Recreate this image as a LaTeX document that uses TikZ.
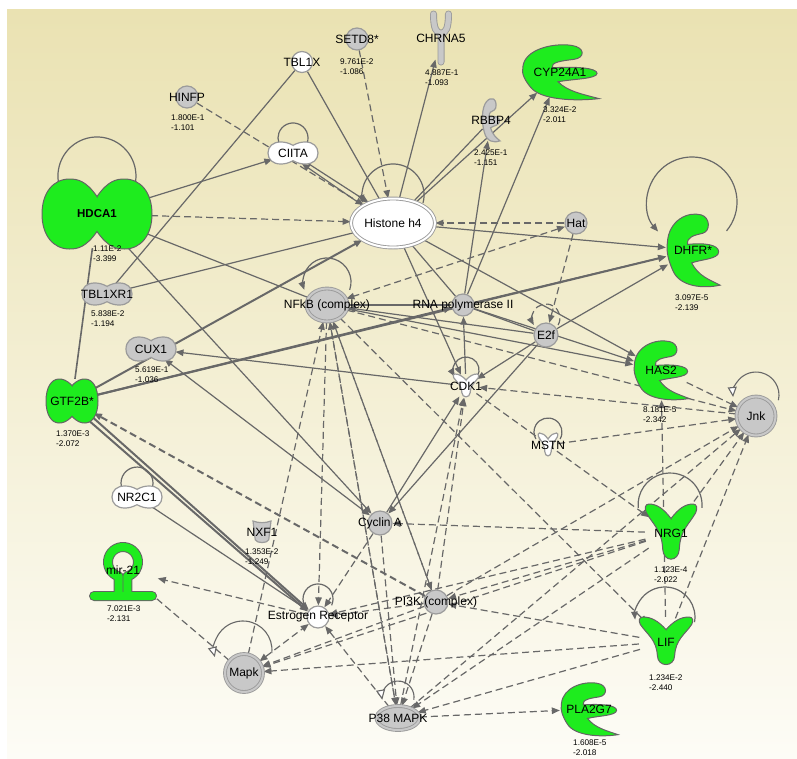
\documentclass[tikz,border=0pt]{standalone}
\usepackage{fontspec}
\setmainfont{Liberation Sans}
\usetikzlibrary{arrows.meta, shapes.geometric, calc}

\definecolor{bgtop}{RGB}{234,226,178}
\definecolor{bgmid}{RGB}{245,241,214}
\definecolor{bgbot}{RGB}{253,252,246}
\definecolor{linkgray}{RGB}{104,104,104}
\definecolor{molgray}{RGB}{200,200,200}
\definecolor{molline}{RGB}{155,155,155}
\definecolor{shapeline}{RGB}{100,100,100}
\definecolor{hitgreen}{RGB}{30,236,30}

\pgfdeclarelayer{panel}
\pgfdeclarelayer{links}
\pgfsetlayers{panel,links,main}

\tikzset{
    rim/.style={draw=shapeline, line width=1pt},
    greyrim/.style={rim/.style={draw=molline, line width=1.2pt}},
    pics/tfreg/.style 2 args={code={
        \path[rim, fill=#1] (0,#2) .. controls (0.2,0.95) and (0.35,1) .. (0.5,1)
            .. controls (0.8,1) and (1,0.6) .. (1,0)
            .. controls (1,-0.6) and (0.8,-1) .. (0.5,-1)
            .. controls (0.35,-1) and (0.2,-0.95) .. (0,-#2)
            .. controls (-0.2,-0.95) and (-0.35,-1) .. (-0.5,-1)
            .. controls (-0.8,-1) and (-1,-0.6) .. (-1,0)
            .. controls (-1,0.6) and (-0.8,1) .. (-0.5,1)
            .. controls (-0.35,1) and (-0.2,0.95) .. cycle;
    }},
    pics/enzyme/.style={code={
        \path[rim, fill=#1] (-0.95,0.2) .. controls (-0.9,0.8) and (-0.2,1.05) .. (0.3,0.95)
            .. controls (0.65,0.88) and (0.65,0.5) .. (0.35,0.45)
            .. controls (0.05,0.4) and (-0.25,0.35) .. (-0.2,0.15)
            .. controls (0.4,0.2) and (0.95,0.15) .. (0.95,-0.05)
            .. controls (0.95,-0.25) and (0.3,-0.25) .. (-0.05,-0.35)
            .. controls (0.2,-0.7) and (0.6,-0.8) .. (1,-0.95)
            .. controls (0.4,-1.05) and (-0.5,-1.0) .. (-0.75,-0.55)
            .. controls (-0.9,-0.3) and (-1.0,-0.05) .. cycle;
    }},
    pics/ligand/.style={code={
        \path[rim, fill=#1] (0,0.5) .. controls (0.3,0.85) and (0.55,1.0) .. (0.85,1.0)
            .. controls (1.0,1.0) and (1.02,0.85) .. (0.95,0.7)
            .. controls (0.7,0.3) and (0.35,0.1) .. (0.32,-0.55)
            .. controls (0.3,-1.02) and (-0.3,-1.02) .. (-0.32,-0.55)
            .. controls (-0.35,0.1) and (-0.7,0.3) .. (-0.95,0.7)
            .. controls (-1.02,0.85) and (-1.0,1.0) .. (-0.85,1.0)
            .. controls (-0.55,1.0) and (-0.3,0.85) .. cycle;
    }},
    pics/receptor/.style={code={
        \draw[line width=7pt, molline, line cap=round] (0,-1) -- (0,0.2)
            (-0.55,1) .. controls (-0.55,0.4) and (-0.35,0.2) .. (0,0.2)
            .. controls (0.35,0.2) and (0.55,0.4) .. (0.55,1);
        \draw[line width=5.2pt, #1, line cap=round] (0,-1) -- (0,0.2)
            (-0.55,1) .. controls (-0.55,0.4) and (-0.35,0.2) .. (0,0.2)
            .. controls (0.35,0.2) and (0.55,0.4) .. (0.55,1);
    }},
    pics/transporter/.style={code={
        \path[rim, fill=#1] (-1,1) .. controls (-0.4,0.8) and (0.4,0.8) .. (1,1)
            -- (0.75,-0.7) .. controls (0.6,-1.05) and (-0.6,-1.05) .. (-0.75,-0.7) -- cycle;
    }},
    pics/mirna/.style={code={
        \draw[line width=10pt, shapeline, line cap=round, line join=round] (-29,-26) -- (29,-26)
            (-4.4,-26) -- (-4.4,-6.34) arc[start angle=253, end angle=-73, radius=15] -- (4.4,-26);
        \draw[line width=8pt, #1, line cap=round, line join=round] (-29,-26) -- (29,-26)
            (-4.4,-26) -- (-4.4,-6.34) arc[start angle=253, end angle=-73, radius=15] -- (4.4,-26);
    }}
}

\begin{document}
\begin{tikzpicture}[
    x=1pt, y=1pt,
    >={Triangle[length=8pt,width=6.5pt]},
    every label/.style={font=\fontsize{12}{12}\selectfont, inner sep=0pt},
    mol/.style={circle, draw=molline, line width=1.2pt, fill=molgray, inner sep=0pt, minimum size=22pt},
    wmol/.style={mol, fill=white},
    dmol/.style={ellipse, draw=molline, line width=0.9pt, double=molgray, double distance=2pt, fill=molgray, inner sep=0pt},
    shapenode/.style={ellipse, inner sep=0pt},
    stat/.style={anchor=west, align=left, inner sep=0pt, font=\fontsize{8.2}{10}\selectfont},
    link/.style={->, draw=linkgray, line width=1.2pt},
    plain/.style={draw=linkgray, line width=1.2pt},
    dlink/.style={link, dash pattern=on 7pt off 4pt},
    tlink/.style={link, line width=2pt},
    openhead/.style={-{Triangle[length=10pt,width=9pt,fill=white]}, draw=linkgray, line width=1.1pt}
]

\begin{pgfonlayer}{panel}
\fill[white] (0,0) rectangle (797,-758);
\shade[top color=bgtop, middle color=bgmid, bottom color=bgbot] (7,-9) rectangle (797,-758);
\end{pgfonlayer}
\useasboundingbox (0,0) rectangle (797,-758);

% Nodes
\node[mol, label=center:SETD8*] (setd) at (357,-39) {};
\node[wmol, minimum size=21pt, label=center:TBL1X] (tblx) at (302,-62) {};
\node[mol, label=center:HINFP] (hinfp) at (187,-97) {};
\pic[xscale=13.6, yscale=24] at (441,-38) {receptor=molgray};
\node[shapenode, minimum width=24pt, minimum height=48pt, label=center:CHRNA5] (chrna) at (441,-38) {};
\pic[xscale=39, yscale=28] at (560,-72) {enzyme=hitgreen};
\node[shapenode, minimum width=74pt, minimum height=52pt, label=center:CYP24A1] (cyp) at (560,-72) {};
\pic[xscale=9, yscale=22, greyrim] at (491,-120) {enzyme=molgray};
\node[shapenode, minimum width=18pt, minimum height=44pt, label=center:RBBP4] (rbbp) at (491,-120) {};
\pic[xscale=25, yscale=11, greyrim] at (293,-153) {tfreg={white}{0.7}};
\node[shapenode, minimum width=50pt, minimum height=22pt, label=center:CIITA] (ciita) at (293,-153) {};
\pic[xscale=55, yscale=35] at (97,-214) {tfreg={hitgreen}{0.5}};
\node[shapenode, minimum width=108pt, minimum height=68pt, label={[font=\fontsize{11.5}{12}\selectfont\bfseries]center:HDCA1}] (hdca) at (97,-214) {};
\node[dmol, minimum width=84pt, minimum height=49pt, fill=white, double=white, label={center:Histone h4}] (hist) at (393,-223) {};
\node[mol, label=center:Hat] (hat) at (576,-223) {};
\pic[xscale=27, yscale=37] at (693,-250) {enzyme=hitgreen};
\node[shapenode, minimum width=54pt, minimum height=72pt, label=center:DHFR*] (dhfr) at (693,-250) {};
\pic[xscale=25, yscale=11, greyrim] at (107,-294) {tfreg={molgray}{0.7}};
\node[shapenode, minimum width=50pt, minimum height=22pt, label=center:TBL1XR1] (tblxr) at (107,-294) {};
\node[dmol, minimum width=41pt, minimum height=33pt, label={center:NFkB (complex)}] (nfkb) at (327,-305) {};
\node[mol, label={center:RNA polymerase II}] (rnap) at (463,-305) {};
\node[mol, minimum size=24pt, label=center:E2f] (etwo) at (546,-335) {};
\pic[xscale=25, yscale=12, greyrim] at (151,-349) {tfreg={molgray}{0.7}};
\node[shapenode, minimum width=50pt, minimum height=24pt, label=center:CUX1] (cux) at (151,-349) {};
\pic[xscale=28, yscale=30] at (661,-370) {enzyme=hitgreen};
\node[shapenode, minimum width=56pt, minimum height=60pt, label=center:HAS2] (has) at (661,-370) {};
\pic[xscale=13, yscale=12, greyrim] at (466,-386) {ligand=white};
\node[shapenode, minimum width=26pt, minimum height=24pt, label=center:CDK1] (cdk) at (466,-386) {};
\node[dmol, circle, minimum size=39pt, label=center:Jnk] (jnk) at (756,-416) {};
\pic[xscale=26, yscale=22] at (72,-401) {tfreg={hitgreen}{0.7}};
\node[shapenode, minimum width=52pt, minimum height=44pt, label=center:GTF2B*] (gtf) at (72,-401) {};
\pic[xscale=10, yscale=12, greyrim] at (548,-445) {ligand=white};
\node[shapenode, minimum width=20pt, minimum height=24pt, label=center:MSTN] (mstn) at (548,-445) {};
\pic[xscale=25, yscale=11, greyrim] at (137,-497) {tfreg={white}{0.7}};
\node[shapenode, minimum width=50pt, minimum height=22pt, label=center:NR2C1] (nrtwo) at (137,-497) {};
\pic[xscale=9, yscale=11, greyrim] at (262,-532) {transporter=molgray};
\node[shapenode, minimum width=18pt, minimum height=22pt, label=center:NXF1] (nxf) at (262,-532) {};
\node[mol, minimum size=24pt, label={center:Cyclin A}] (cyca) at (380,-523) {};
\pic[xscale=26, yscale=29] at (671,-533) {ligand=hitgreen};
\node[shapenode, minimum width=52pt, minimum height=58pt, label=center:NRG1] (nrg) at (671,-533) {};
\pic at (123,-570) {mirna=hitgreen};
\node[shapenode, minimum width=72pt, minimum height=60pt, label=center:mir-21] (mir) at (123,-570) {};
\node[mol, minimum size=24pt, label={center:PI3K (complex)}] (pik) at (436,-602) {};
\node[wmol, label={center:Estrogen Receptor}] (esr) at (318,-617) {};
\pic[xscale=27, yscale=25] at (666,-642) {ligand=hitgreen};
\node[shapenode, minimum width=54pt, minimum height=50pt, label=center:LIF] (lif) at (666,-642) {};
\node[dmol, circle, minimum size=38pt, label=center:Mapk] (mapk) at (244,-673) {};
\node[dmol, minimum width=43pt, minimum height=24pt, label={center:P38 MAPK}] (pmapk) at (398,-718) {};
\pic[xscale=29, yscale=27] at (589,-709) {enzyme=hitgreen};
\node[shapenode, minimum width=58pt, minimum height=54pt, label=center:PLA2G7] (pla) at (589,-709) {};

% Values
\node[stat] at (340,-66.5) {9.761E-2\\-1.086};
\node[stat] at (425,-78) {4.887E-1\\-1.093};
\node[stat] at (543,-114.5) {3.324E-2\\-2.011};
\node[stat] at (474,-158) {2.425E-1\\-1.151};
\node[stat] at (171,-123) {1.800E-1\\-1.101};
\node[stat] at (93,-253.5) {1.11E-2\\-3.399};
\node[stat] at (675,-303) {3.097E-5\\-2.139};
\node[stat] at (91,-318.5) {5.838E-2\\-1.194};
\node[stat] at (135,-375) {5.619E-1\\-1.036};
\node[stat] at (643,-415) {8.181E-5\\-2.342};
\node[stat] at (56,-438.5) {1.370E-3\\-2.072};
\node[stat] at (245,-557) {1.353E-2\\-1.249};
\node[stat] at (654,-575) {1.123E-4\\-2.022};
\node[stat] at (107,-614) {7.021E-3\\-2.131};
\node[stat] at (649,-683) {1.234E-2\\-2.440};
\node[stat] at (573,-748) {1.608E-5\\-2.018};

% Arrows
\begin{pgfonlayer}{links}
\draw[dlink] (hinfp) -- (hist);
\draw[dlink] (setd) -- (hist);
\draw[plain] (tblx) -- (hist);
\draw[plain] (tblx) -- (tblxr);
\draw[link] (hist) -- (chrna);
\draw[link] (hist) -- (cyp);
\draw[plain] (hist) -- (rbbp);
\draw[link] (rnap) -- (cyp);
\draw[link] (rnap) -- (rbbp);
\draw[link] (ciita.-35) -- (hist.140);
\draw[link] (hist.150) -- (ciita.-50);
\draw[link] (hdca) -- (ciita);
\draw[dlink] (hdca) -- (hist);
\draw[plain] (hdca) -- (nfkb);
\draw[plain, line width=1.6pt] (hdca) -- (gtf);
\draw[link] (hdca) -- (cyca);
\draw[plain] (tblxr) -- (hist);
\draw[tlink] (gtf) -- (hist);
\draw[tlink] (gtf) -- (rnap);
\draw[tlink] (gtf) -- (dhfr);
\draw[link] (cdk) -- (cux);
\draw[link, <->] (cux) -- (cyca);
\draw[dlink] (hat) -- (hist);
\draw[link] (hist) -- (dhfr);
\draw[dlink, <->] (hat) -- (nfkb);
\draw[dlink] (hat) -- (etwo);
\draw[link] (hist) -- (cdk);
\draw[plain] (hist) -- (rnap);
\draw[link] (hist) -- (has);
\draw[link] (rnap) -- (dhfr);
\draw[link] (etwo) -- (dhfr);
\draw[link] (etwo) -- (nfkb);
\draw[plain] (nfkb) -- (rnap);
\draw[link] (nfkb) -- (has);
\draw[link] (rnap) -- (has);
\draw[plain] (rnap) -- (etwo);
\draw[link] (etwo) -- (cdk);
\draw[link] (etwo) -- (cyca);
\draw[link] (cyca) -- (cdk);
\draw[link] (cdk) -- (rnap);
\draw[dlink] (jnk) -- (cdk);
\draw[dlink] (nfkb) -- (jnk);
\draw[dlink] (has) -- (jnk);
\draw[dlink] (mstn) -- (jnk);
\draw[dlink] (cdk) -- (nrg);
\draw[dlink] (nfkb) -- (lif);
\draw[dlink] (nrg) -- (jnk);
\draw[dlink] (lif) -- (jnk);
\draw[dlink] (pik) -- (jnk);
\draw[dlink] (pmapk) -- (jnk);
\draw[dlink] (lif) -- (has);
\draw[dlink] (nrg) -- (cyca);
\draw[dlink] (nrg) -- (pik);
\draw[dlink] (lif) -- (pik);
\draw[dlink] (nrg) -- (esr);
\draw[dlink] (nrg) -- (mapk);
\draw[dlink] (lif) -- (mapk);
\draw[dlink] (nrg) -- (pmapk);
\draw[dlink] (lif) -- (pmapk);
\draw[dlink] (pik) -- (esr);
\draw[dlink] (pik) -- (mapk);
\draw[dlink] (pik) -- (pmapk);
\draw[dlink] (pik) -- (nfkb);
\draw[dlink] (pmapk) -- (nfkb);
\draw[dlink] (mapk) -- (nfkb);
\draw[dlink] (nfkb) -- (esr);
\draw[dlink] (nfkb) -- (pmapk);
\draw[dlink] (pik) -- (cdk);
\draw[dlink] (pmapk) -- (cdk);
\draw[dlink] (cyca) -- (esr);
\draw[dlink] (cyca) -- (pmapk);
\draw[dlink] (nfkb) -- (pik);
\draw[tlink] (gtf.-38) -- (esr.142);
\draw[tlink] (gtf.-50) -- (esr.152);
\draw[dlink, line width=2pt] (pik) -- (gtf);
\draw[link] (nrtwo) -- (esr);
\draw[dlink] (esr) -- (mir);
\draw[dlink] (mapk) -- (mir);
\draw[dlink, <->] (mapk) -- (esr);
\draw[dlink] (pmapk) -- (esr);
\draw[dlink] (pmapk) -- (pla);
% self loops
\draw[plain] (ciita) ++(14.1,9.9) arc[start angle=-20, end angle=200, radius=15];
\draw[plain] (hdca) ++(36.6,24.7) arc[start angle=-20, end angle=200, radius=39];
\draw[link] (hist) ++(30,20) arc[start angle=-15, end angle=195, radius=31];
\draw[link] (nfkb) ++(22.7,15.2) arc[start angle=-19, end angle=199, radius=24];
\draw[link] (dhfr) ++(33.5,19.1) arc[start angle=-40, end angle=221, radius=45];
\draw[dlink] (etwo) ++(12.1,10) arc[start angle=-30, end angle=210, radius=14];
\draw[link] (cdk) ++(11.3,9.5) arc[start angle=-30, end angle=210, radius=13];
\draw[openhead] (jnk) ++(22.4,15.8) arc[start angle=-13, end angle=185, radius=23];
\draw[plain] (mstn) ++(12.1,6) arc[start angle=-30, end angle=210, radius=14];
\draw[plain] (nrtwo) ++(14.5,7.2) arc[start angle=-25, end angle=205, radius=16];
\draw[plain] (esr) ++(13.6,11.7) arc[start angle=-25, end angle=205, radius=15];
\draw[plain] (nrg) ++(30.9,25.2) arc[start angle=-5, end angle=185, radius=32];
\draw[link] (lif) ++(28.5,19.8) arc[start angle=-10, end angle=185, radius=30];
\draw[openhead] (mapk) ++(27.8,20) arc[start angle=-6, end angle=194, radius=29];
\draw[openhead] (pmapk) ++(15.8,18.2) arc[start angle=-10, end angle=190, radius=16];
\end{pgfonlayer}

\end{tikzpicture}
\end{document}
